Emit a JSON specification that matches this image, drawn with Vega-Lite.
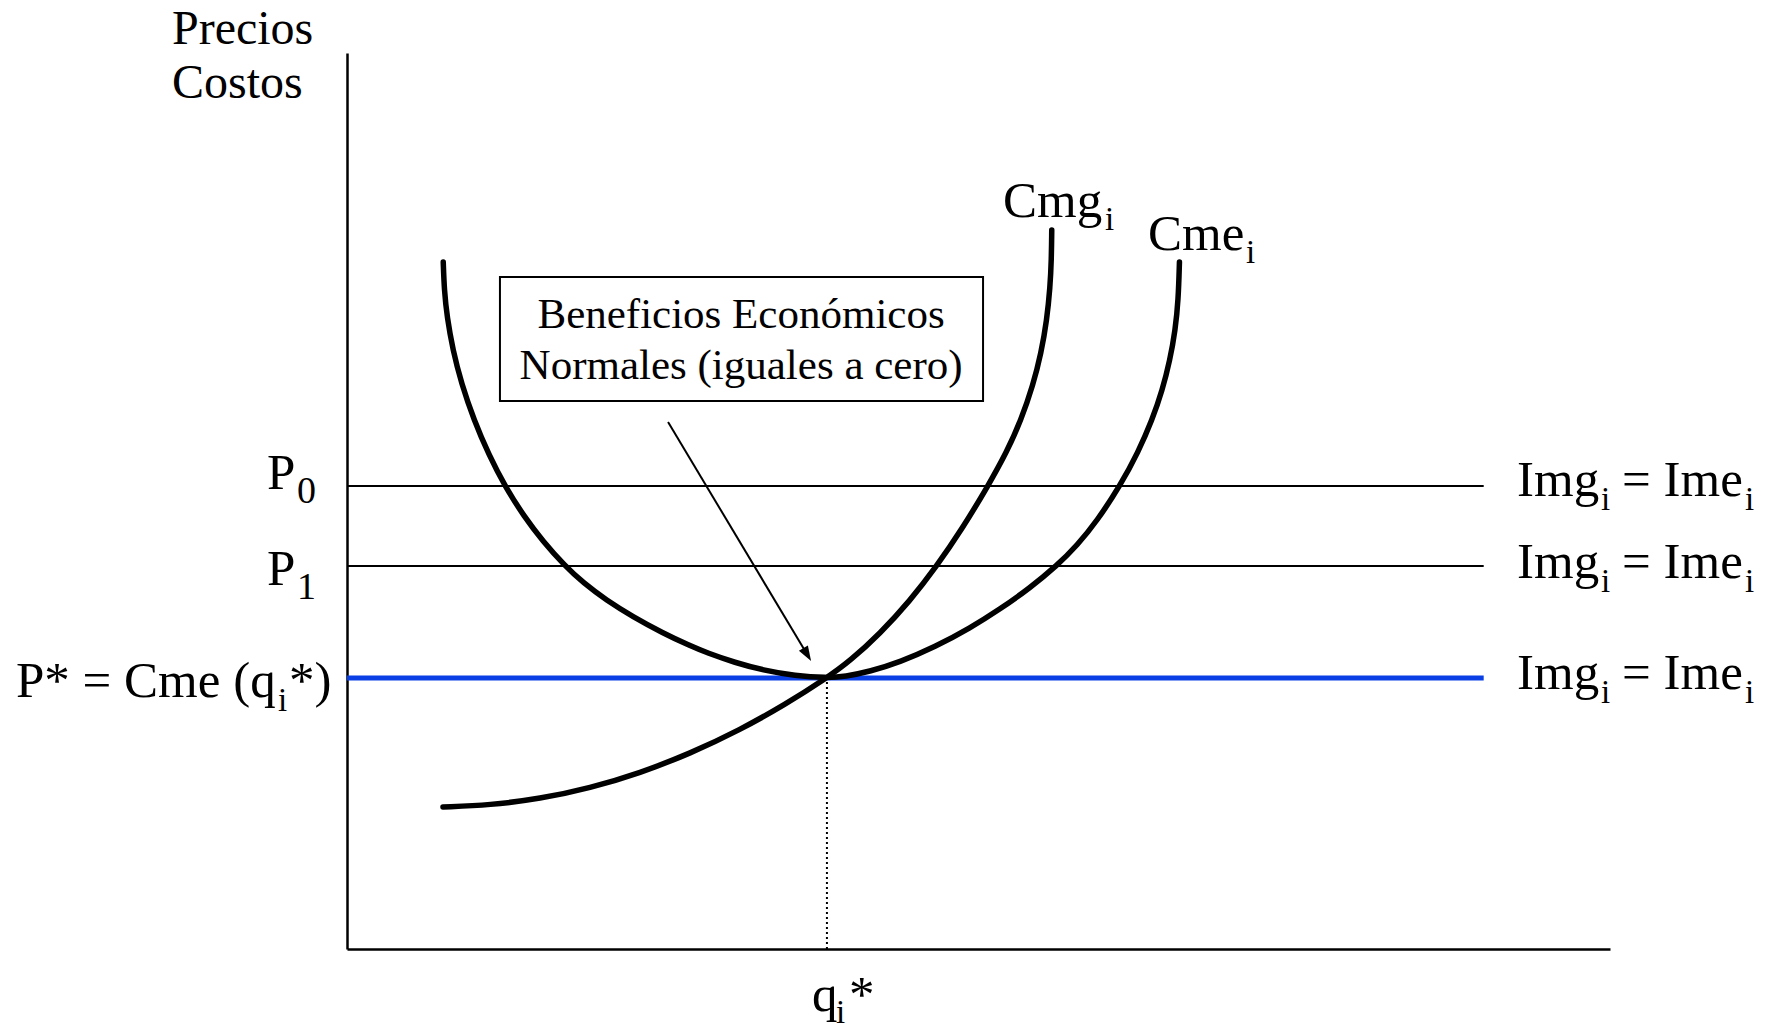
{
  "$schema": "https://vega.github.io/schema/vega-lite/v6.json",
  "width": 1263,
  "height": 896,
  "autosize": "none",
  "padding": {"left": 347, "top": 53, "right": 164, "bottom": 82},
  "background": "white",
  "config": {"view": {"stroke": null}, "text": {"font": "Liberation Serif", "color": "black"}},
  "datasets": {
    "curves": [
      {"curve": "Cme", "x": 7.62, "y": 76.67},
      {"curve": "Cme", "x": 7.70, "y": 73.55},
      {"curve": "Cme", "x": 7.92, "y": 70.54},
      {"curve": "Cme", "x": 8.38, "y": 66.85},
      {"curve": "Cme", "x": 9.05, "y": 63.17},
      {"curve": "Cme", "x": 10.05, "y": 59.04},
      {"curve": "Cme", "x": 11.24, "y": 55.13},
      {"curve": "Cme", "x": 12.50, "y": 51.67},
      {"curve": "Cme", "x": 14.05, "y": 48.21},
      {"curve": "Cme", "x": 15.50, "y": 45.54},
      {"curve": "Cme", "x": 17.26, "y": 42.75},
      {"curve": "Cme", "x": 18.72, "y": 40.85},
      {"curve": "Cme", "x": 20.51, "y": 38.95},
      {"curve": "Cme", "x": 22.67, "y": 37.05},
      {"curve": "Cme", "x": 25.00, "y": 35.27},
      {"curve": "Cme", "x": 27.16, "y": 33.84},
      {"curve": "Cme", "x": 28.50, "y": 33.06},
      {"curve": "Cme", "x": 30.72, "y": 31.96},
      {"curve": "Cme", "x": 32.94, "y": 31.12},
      {"curve": "Cme", "x": 35.47, "y": 30.49},
      {"curve": "Cme", "x": 38.00, "y": 30.25},
      {"curve": "Cme", "x": 39.43, "y": 30.41},
      {"curve": "Cme", "x": 41.41, "y": 30.97},
      {"curve": "Cme", "x": 43.78, "y": 32.02},
      {"curve": "Cme", "x": 46.56, "y": 33.71},
      {"curve": "Cme", "x": 49.33, "y": 35.81},
      {"curve": "Cme", "x": 51.70, "y": 37.92},
      {"curve": "Cme", "x": 54.08, "y": 40.30},
      {"curve": "Cme", "x": 56.22, "y": 42.80},
      {"curve": "Cme", "x": 57.80, "y": 45.03},
      {"curve": "Cme", "x": 59.38, "y": 47.77},
      {"curve": "Cme", "x": 61.20, "y": 51.67},
      {"curve": "Cme", "x": 62.65, "y": 55.47},
      {"curve": "Cme", "x": 63.75, "y": 59.04},
      {"curve": "Cme", "x": 64.56, "y": 62.39},
      {"curve": "Cme", "x": 65.16, "y": 65.74},
      {"curve": "Cme", "x": 65.58, "y": 69.08},
      {"curve": "Cme", "x": 65.82, "y": 72.43},
      {"curve": "Cme", "x": 65.91, "y": 76.67},
      {"curve": "Cmg", "x": 7.60, "y": 15.85},
      {"curve": "Cmg", "x": 11.32, "y": 16.06},
      {"curve": "Cmg", "x": 15.28, "y": 16.76},
      {"curve": "Cmg", "x": 19.24, "y": 17.96},
      {"curve": "Cmg", "x": 23.20, "y": 19.64},
      {"curve": "Cmg", "x": 27.16, "y": 21.81},
      {"curve": "Cmg", "x": 31.12, "y": 24.46},
      {"curve": "Cmg", "x": 34.68, "y": 27.27},
      {"curve": "Cmg", "x": 38.00, "y": 30.25},
      {"curve": "Cmg", "x": 39.83, "y": 32.15},
      {"curve": "Cmg", "x": 42.20, "y": 35.19},
      {"curve": "Cmg", "x": 44.58, "y": 38.87},
      {"curve": "Cmg", "x": 46.63, "y": 42.61},
      {"curve": "Cmg", "x": 48.69, "y": 46.86},
      {"curve": "Cmg", "x": 50.75, "y": 51.67},
      {"curve": "Cmg", "x": 52.24, "y": 55.47},
      {"curve": "Cmg", "x": 53.37, "y": 59.04},
      {"curve": "Cmg", "x": 54.32, "y": 62.95},
      {"curve": "Cmg", "x": 54.96, "y": 66.52},
      {"curve": "Cmg", "x": 55.41, "y": 70.20},
      {"curve": "Cmg", "x": 55.67, "y": 73.88},
      {"curve": "Cmg", "x": 55.77, "y": 76.90},
      {"curve": "Cmg", "x": 55.80, "y": 80.25}
    ],
    "prices": [
      {"name": "P0", "x": 0, "x2": 90, "y": 51.67},
      {"name": "P1", "x": 0, "x2": 90, "y": 42.75},
      {"name": "Pstar", "x": 0, "x2": 90, "y": 30.25}
    ],
    "qstar": [{"x": 38.0, "y": 0, "y2": 30.25}],
    "arrow": [{"x": 25.42, "y": 58.82, "x2": 36.44, "y2": 32.86}],
    "arrowhead": [{"x": 36.44, "y": 32.86}],
    "box": [{"x": 12.11, "x2": 50.36, "y": 61.16, "y2": 75.0}],
    "mainLabels": [
      {"x": -6.33, "y": 51.34, "label": "P"},
      {"x": -6.33, "y": 40.63, "label": "P"},
      {"x": -26.21, "y": 28.13, "label": "P* = Cme (q"},
      {"x": -4.59, "y": 28.13, "label": "*)"},
      {"x": 51.94, "y": 81.70, "label": "Cmg"},
      {"x": 63.42, "y": 78.01, "label": "Cme"},
      {"x": 36.82, "y": -6.92, "label": "q"},
      {"x": 39.75, "y": -6.92, "label": "*"},
      {"x": 92.64, "y": 50.56, "label": "Img"},
      {"x": 100.95, "y": 50.56, "label": "= Ime"},
      {"x": 92.64, "y": 41.41, "label": "Img"},
      {"x": 100.95, "y": 41.41, "label": "= Ime"},
      {"x": 92.64, "y": 29.02, "label": "Img"},
      {"x": 100.95, "y": 29.02, "label": "= Ime"}
    ],
    "subLabels": [
      {"x": -5.46, "y": 26.56, "label": "i"},
      {"x": 60.02, "y": 80.25, "label": "i"},
      {"x": 71.18, "y": 76.56, "label": "i"},
      {"x": 38.72, "y": -8.26, "label": "i"},
      {"x": 99.29, "y": 49.0, "label": "i"},
      {"x": 110.69, "y": 49.0, "label": "i"},
      {"x": 99.29, "y": 39.84, "label": "i"},
      {"x": 110.69, "y": 39.84, "label": "i"},
      {"x": 99.29, "y": 27.46, "label": "i"},
      {"x": 110.69, "y": 27.46, "label": "i"}
    ],
    "digitLabels": [
      {"x": -3.96, "y": 49.78, "label": "0"},
      {"x": -3.96, "y": 39.06, "label": "1"}
    ],
    "axisTitles": [
      {"x": -13.86, "y": 100.95, "label": "Precios"},
      {"x": -13.86, "y": 94.98, "label": "Costos"}
    ],
    "boxText": [
      {"x": 31.20, "y": 69.31, "label": "Beneficios Económicos"},
      {"x": 31.20, "y": 63.62, "label": "Normales (iguales a cero)"}
    ]
  },
  "encoding": {
    "x": {
      "field": "x", "type": "quantitative",
      "scale": {"domain": [0, 100], "nice": false, "zero": false},
      "axis": {"ticks": false, "labels": false, "grid": false, "title": null, "domainColor": "black", "domainWidth": 2.5}
    },
    "y": {
      "field": "y", "type": "quantitative",
      "scale": {"domain": [0, 100], "nice": false, "zero": false},
      "axis": {"ticks": false, "labels": false, "grid": false, "title": null, "domainColor": "black", "domainWidth": 2.5}
    }
  },
  "layer": [
    {
      "data": {"name": "box"},
      "mark": {"type": "rect", "fill": "white", "stroke": "black", "strokeWidth": 2},
      "encoding": {"x2": {"field": "x2"}, "y2": {"field": "y2"}}
    },
    {
      "data": {"name": "prices"},
      "transform": [{"filter": "datum.name != 'Pstar'"}],
      "mark": {"type": "rule", "color": "black", "strokeWidth": 2},
      "encoding": {"x2": {"field": "x2"}}
    },
    {
      "data": {"name": "prices"},
      "transform": [{"filter": "datum.name == 'Pstar'"}],
      "mark": {"type": "rule", "color": "#0A3FE5", "strokeWidth": 5},
      "encoding": {"x2": {"field": "x2"}}
    },
    {
      "data": {"name": "qstar"},
      "mark": {"type": "rule", "color": "black", "strokeWidth": 2, "strokeDash": [2, 3]},
      "encoding": {"y2": {"field": "y2"}}
    },
    {
      "data": {"name": "arrow"},
      "mark": {"type": "rule", "color": "black", "strokeWidth": 2},
      "encoding": {"x2": {"field": "x2"}, "y2": {"field": "y2"}}
    },
    {
      "data": {"name": "arrowhead"},
      "mark": {"type": "point", "shape": "M0,-1L-0.7,1L0.7,1Z", "angle": 149, "size": 225, "filled": true, "color": "black", "opacity": 1, "strokeWidth": 0}
    },
    {
      "data": {"name": "curves"},
      "mark": {"type": "line", "color": "black", "strokeWidth": 5.5, "interpolate": "basis", "strokeCap": "round"},
      "encoding": {"detail": {"field": "curve"}, "order": {"field": "x", "type": "quantitative"}}
    },
    {
      "data": {"name": "mainLabels"},
      "mark": {"type": "text", "fontSize": 51, "align": "left", "baseline": "alphabetic"},
      "encoding": {"text": {"field": "label"}}
    },
    {
      "data": {"name": "subLabels"},
      "mark": {"type": "text", "fontSize": 33, "align": "left", "baseline": "alphabetic"},
      "encoding": {"text": {"field": "label"}}
    },
    {
      "data": {"name": "digitLabels"},
      "mark": {"type": "text", "fontSize": 38, "align": "left", "baseline": "alphabetic"},
      "encoding": {"text": {"field": "label"}}
    },
    {
      "data": {"name": "axisTitles"},
      "mark": {"type": "text", "fontSize": 48, "align": "left", "baseline": "alphabetic"},
      "encoding": {"text": {"field": "label"}}
    },
    {
      "data": {"name": "boxText"},
      "mark": {"type": "text", "fontSize": 43, "align": "center", "baseline": "alphabetic"},
      "encoding": {"text": {"field": "label"}}
    }
  ]
}
